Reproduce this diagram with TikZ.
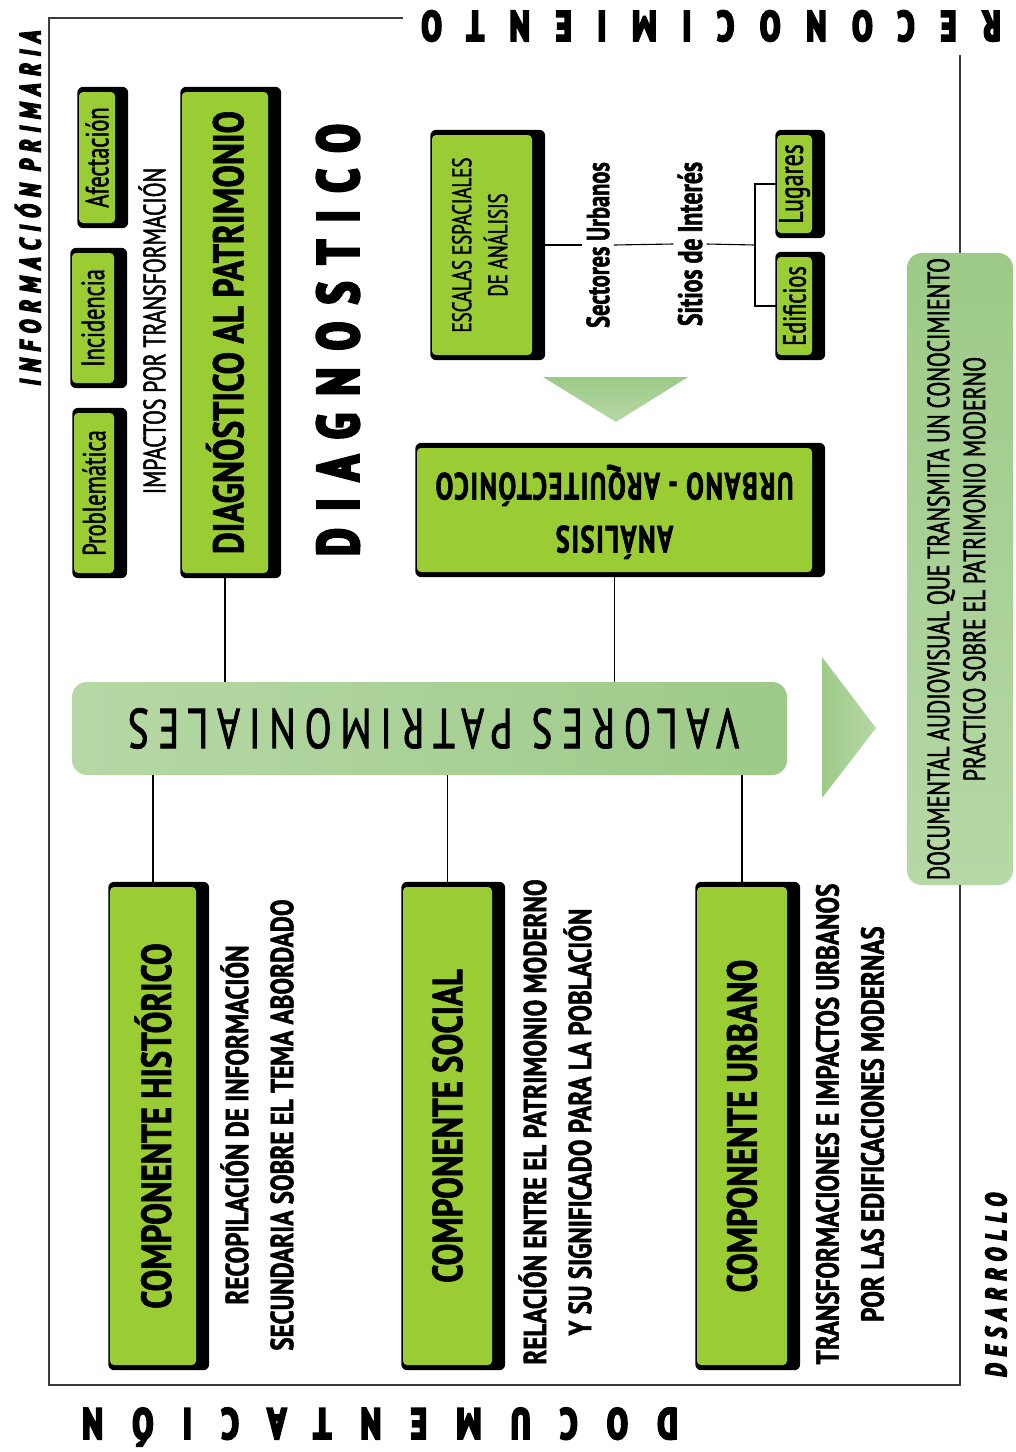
\documentclass[tikz,border=0pt]{standalone}
\usepackage{fontspec}
\usetikzlibrary{backgrounds}
\setmainfont{PT Sans}
\newfontfamily\cnd[FakeStretch=0.7, FakeBold=1.5]{PT Sans}
\newfontfamily\cndw[FakeStretch=0.78, FakeBold=1.5]{PT Sans}
\newfontfamily\hv[FakeStretch=0.72, FakeBold=5.5]{PT Sans}
\newcommand\sz[2]{\fontsize{#1pt}{#2pt}\selectfont}
\definecolor{boxgreen}{RGB}{154,204,51}
\definecolor{lgA}{RGB}{182,216,166}
\definecolor{lgB}{RGB}{157,202,136}
\definecolor{framec}{RGB}{60,60,60}
\tikzset{
  gbox/.style={fill=boxgreen, rounded corners=4pt, inner sep=0pt, align=center},
  lbl/.style={inner sep=2pt, align=center},
  conn/.style={draw=black, line width=1.1pt},
  framel/.style={draw=framec, line width=1.4pt},
}
\begin{document}
\begin{tikzpicture}[x=1pt,y=-1pt]
\useasboundingbox (0,0) rectangle (1016,1452);

% ---------- green boxes ----------
\node[gbox, minimum width=40pt, minimum height=160pt] (prob) at (94,493) {\rotatebox{90}{\cnd\sz{32}{36}Problemática}};
\node[gbox, minimum width=42pt, minimum height=130pt] (inc) at (93,318) {\rotatebox{90}{\cnd\sz{32}{36}Incidencia}};
\node[gbox, minimum width=36pt, minimum height=131pt] (afec) at (97,157.5) {\rotatebox{90}{\cnd\sz{32}{36}Afectación}};
\node[gbox, minimum width=86pt, minimum height=481pt] (diag) at (225,332.5) {\rotatebox{90}{\cndw\bfseries\sz{43}{46}DIAGNÓSTICO AL PATRIMONIO}};
\node[gbox, minimum width=100pt, minimum height=220pt] (esc) at (482,245) {\rotatebox{90}{\cnd\sz{27}{36}\begin{tabular}{@{}c@{}}ESCALAS ESPACIALES\\DE ANÁLISIS\end{tabular}}};
\node[gbox, minimum width=35pt, minimum height=98pt] (lug) at (794.5,184) {\rotatebox{90}{\cnd\sz{34}{36}Lugares}};
\node[gbox, minimum width=35pt, minimum height=98pt] (edi) at (794.5,306) {\rotatebox{90}{\cnd\sz{32}{36}Edificios}};
\node[gbox, minimum width=395pt, minimum height=124pt] (ana) at (614.5,510) {\rotatebox{180}{\cnd\bfseries\sz{38}{53}\addfontfeature{LetterSpace=4}\begin{tabular}{@{}c@{}}ANÁLISIS\\URBANO - ARQUITECTÓNICO\end{tabular}}};
\node[gbox, minimum width=86pt, minimum height=478pt] (hist) at (153,1126) {\rotatebox{90}{\cndw\bfseries\sz{42}{46}COMPONENTE HISTÓRICO}};
\node[gbox, minimum width=89pt, minimum height=478pt] (soc) at (447.5,1126) {\rotatebox{90}{\cndw\bfseries\sz{42}{46}COMPONENTE SOCIAL}};
\node[gbox, minimum width=90pt, minimum height=478pt] (urb) at (742,1126) {\rotatebox{90}{\cndw\bfseries\sz{42}{46}COMPONENTE URBANO}};

% ---------- light green boxes ----------
\node[rounded corners=15pt, left color=lgA, right color=lgB, minimum width=715pt, minimum height=93pt, inner sep=0pt] (val) at (429.5,728.5)
  {\rotatebox{180}{\cnd\sz{56}{60}\addfontfeature{LetterSpace=16}VALORES PATRIMONIALES\hspace*{8pt}}};
\node[rounded corners=15pt, top color=lgB, bottom color=lgA, minimum width=106pt, minimum height=632pt, inner sep=0pt] (doc) at (960,569)
  {\rotatebox{90}{\cnd\sz{31}{36}\begin{tabular}{@{}c@{}}DOCUMENTAL AUDIOVISUAL QUE TRANSMITA UN CONOCIMIENTO\\PRACTICO SOBRE EL PATRIMONIO MODERNO\end{tabular}}};

% ---------- triangles ----------
\shade[top color=lgB, bottom color=lgA] (543,377) -- (688,377) -- (616,422) -- cycle;
\shade[left color=lgB, right color=lgA] (822,657) -- (822,798) -- (876,728) -- cycle;

% ---------- shadows ----------
\begin{scope}[on background layer]
\fill[white] (0,0) rectangle (1016,1452);
\foreach \n in {prob,inc,afec,diag,esc,lug,edi,ana,hist,soc,urb}
  \fill[black, rounded corners=6pt] ([xshift=-1.5pt,yshift=5pt]\n.north west) rectangle ([xshift=13pt,yshift=-5pt]\n.south east);
\end{scope}

% ---------- labels ----------
\node[lbl, rotate=90, font=\cnd\sz{31}{34}] (imp) at (152,331) {IMPACTOS POR TRANSFORMACIÓN};
\node[lbl, rotate=90, font=\hv\bfseries\sz{58}{60}\addfontfeature{LetterSpace=31}] (diagt) at (338,340) {DIAGNOSTICO};
\node[lbl, inner sep=4pt] (sect) at (598,245) {\rotatebox{90}{\cnd\bfseries\sz{32}{36}Sectores Urbanos}};
\node[lbl, inner sep=4pt] (sit) at (690,244) {\rotatebox{90}{\cnd\bfseries\sz{34}{36}Sitios de Interés}};
\coordinate (br) at (755,245);

\node[lbl, rotate=90, font=\cndw\bfseries\sz{32}{45}] (histd) at (257,1125) {RECOPILACIÓN DE INFORMACIÓN\\SECUNDARIA SOBRE EL TEMA ABORDADO};
\node[lbl, rotate=90, font=\cndw\bfseries\sz{32}{45}] (socd) at (555,1122) {RELACIÓN ENTRE EL PATRIMONIO MODERNO\\Y SU SIGNIFICADO PARA LA POBLACIÓN};
\node[lbl, rotate=90, font=\cndw\bfseries\sz{32}{45}] (urbd) at (850,1124) {TRANSFORMACIONES E IMPACTOS URBANOS\\POR LAS EDIFICACIONES MODERNAS};

\node[lbl, inner sep=0pt, rotate=90, font=\hv\bfseries\itshape\sz{29}{30}\addfontfeature{LetterSpace=26}] (infp) at (28,208) {INFORMACIÓN PRIMARIA};
\node[lbl, inner sep=0pt, rotate=90, font=\hv\bfseries\itshape\sz{29}{30}\addfontfeature{LetterSpace=26}] (desa) at (996,1285) {DESARROLLO};
\node[lbl, inner sep=0pt, rotate=180, font=\hv\bfseries\sz{42}{44}\addfontfeature{LetterSpace=62}] (recon) at (711,26) {RECONOCIMIENTO};
\node[lbl, inner sep=0pt, rotate=180, font=\hv\bfseries\sz{43}{44}\addfontfeature{LetterSpace=69}] (docu) at (380,1427) {DOCUMENTACIÓN};

% ---------- connectors ----------
\draw[conn] ([xshift=13pt]esc.east) -- (sect.west);
\draw[conn] (sect.east) -- (sit.west);
\draw[conn] (sit.east) -- (br);
\draw[conn] (lug.west) -| (br) |- (edi.west);
\draw[conn] (diag.south) -- (diag.south |- val.north);
\draw[conn] (ana.south) -- (ana.south |- val.north);
\draw[conn] (hist.north |- val.south) -- (hist.north);
\draw[conn] (soc.north |- val.south) -- (soc.north);
\draw[conn] (urb.north |- val.south) -- (urb.north);

% ---------- frame ----------
\draw[framel] (doc.south) -- (960,1385) -- (49,1385) -- (49,18) -- (403,18);
\draw[framel] (doc.north) -- (960,55);
\end{tikzpicture}
\end{document}
